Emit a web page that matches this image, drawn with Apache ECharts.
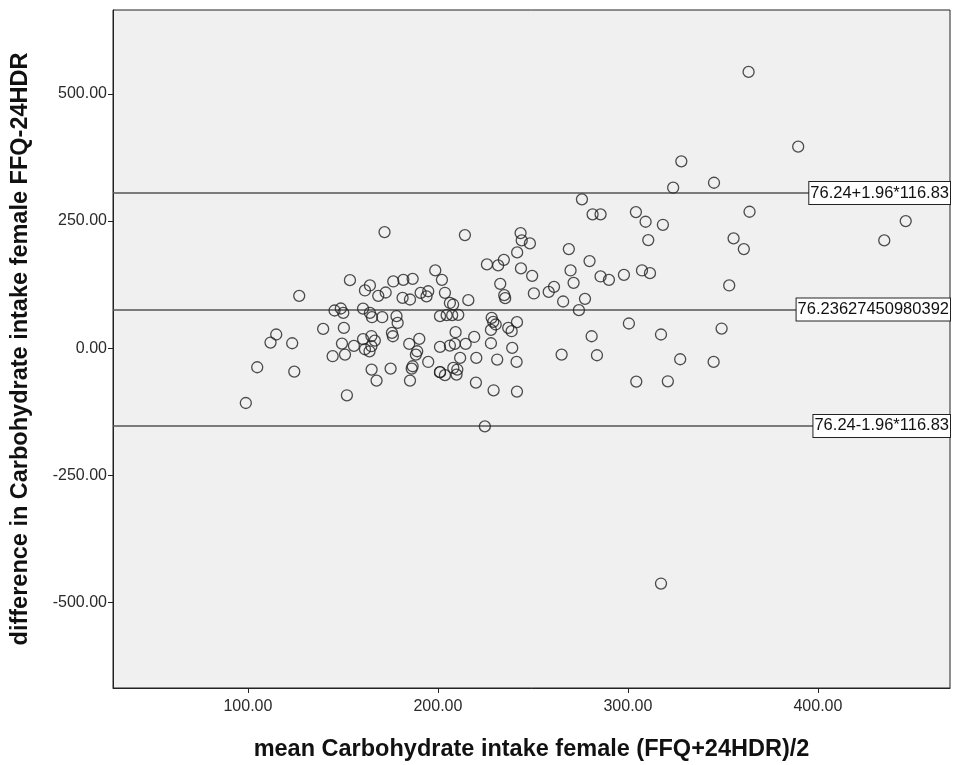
<!DOCTYPE html>
<html>
<head>
<meta charset="utf-8">
<script src="https://cdn.jsdelivr.net/npm/echarts@6/dist/echarts.min.js"></script>
<style>
html,body{margin:0;padding:0;background:#fff;}
#chart{width:954px;height:765px;}
</style>
</head>
<body>
<div id="chart"></div>
<script>
// mean of the two methods (x)
const meanValues = [
  98.9,104.9,111.9,114.9,123.3,124.4,127,139.6,144.6,145.6,148.9,150.2,149.5,150.5,151.1,152.1,153.7,155.8,
  160.6,164.2,165.3,170.7,178.2,178.8,160.6,165,166.8,161.6,165,164,175.8,176.3,
  184.9,190.2,189.1,188.4,194.9,165.1,175.1,167.7,186.2,185.3,186.7,201.1,
  161.6,164.2,168.6,172.5,176.5,181.8,186.7,181.4,185.3,190.9,194.9,194,198.6,202.1,203.7,
  206.3,208,216,201.1,204.6,207.5,210.7,228.3,229.1,230.4,227.9,237,238.8,241.6,209.3,219.1,
  201.1,206.3,208.9,214.6,227.9,239.1,211.7,220.2,231.2,241.4,201.1,203.7,208.1,210.2,209.8,
  220,229.3,241.6,224.7,171.9,214.2,243.5,244.1,248.4,241.7,225.8,231.7,234.7,243.7,249.6,
  232.8,250.5,258.3,261.1,234.9,235.4,
  265.9,277.4,274.2,300.5,317.4,349.3,280.9,265.1,283.7,327.5,345.1,304.4,321,
  268.9,279.8,269.8,271.4,285.6,290,297.9,307.4,311.6,353.3,
  275.8,281.4,285.6,304.2,309.3,318.4,364,446.2,434.9,310.7,355.6,361,
  363.5,389.6,328.1,323.8,345.3,317.4
];
// difference FFQ - 24HDR (y)
const diffValues = [
  -107.7,-37.4,11.2,27,9.8,-45.9,103,38,-15.7,74.2,78.1,69.5,9.2,40,-12.5,-92.5,133.9,4.6,
  78,69.5,61,61,63,49.8,18,24,15,-2,4,-6,30.2,23.6,
  8.5,18.3,-5.9,-12.5,-27,-42,-40,-63.6,-40,-63.6,-35.4,2.6,
  113.6,123.4,103,109.6,131.3,134.5,136.4,99,95.8,108.9,112,102,153,134.5,109,
  89,86,94.5,63,65,65,65.6,59.7,51.8,46.7,36,40,33.5,51.2,31.5,22.2,
  -47,5.3,8.5,8.5,9.8,0.6,-19,-19,-22.2,-26.9,-47,-53,-38.8,-41.9,-51.8,
  -67.5,-82.7,-85.3,-153.5,228.3,222.4,226.4,212,206.1,188.4,164.8,162.8,173.8,156.9,142.3,
  126.6,107.7,110.8,120.7,104.3,98.4,
  91.9,97.1,74.8,48.6,27,38.7,23.6,-12.5,-13.8,-21.7,-26.9,-65.6,-65,
  194.9,171.3,152.9,128.6,141.1,134.5,144.3,152.9,147.6,123.4,
  292.7,263.2,263.2,267.7,248.7,242.7,268.3,250,212,212.6,216,194.9,
  543.3,396.3,367.5,315.6,325.4,-462.6
];
const xTicks = [100, 200, 300, 400];
const yTicks = [-500, -250, 0, 250, 500];
const meanDiff = 76.23627450980392;
const sdDiff = 116.83;
const refValues = [meanDiff + 1.96 * sdDiff, meanDiff, meanDiff - 1.96 * sdDiff];
const refLabels = ['76.24+1.96*116.83', '76.23627450980392', '76.24-1.96*116.83'];

const points = meanValues.map((x, i) => [x, diffValues[i]]);
const font = 'Liberation Sans, Arial, sans-serif';

const chart = echarts.init(document.getElementById('chart'), null, {renderer: 'canvas'});
chart.setOption({
  animation: false,
  backgroundColor: '#ffffff',
  grid: {
    left: 113, right: 4, top: 10, bottom: 77,
    containLabel: false,
    outerBoundsMode: 'none',
    show: true, backgroundColor: '#f0f0f0', borderColor: '#222', borderWidth: 1
  },
  xAxis: {
    type: 'value', min: 29, max: 469.5,
    splitLine: {show: false},
    axisLine: {show: true, onZero: false, lineStyle: {color: '#222', width: 1}},
    axisTick: {show: true, customValues: xTicks, length: 5, lineStyle: {color: '#222'}},
    axisLabel: {customValues: xTicks, formatter: v => v.toFixed(2), color: '#2a2a2a', fontSize: 16, fontFamily: font, margin: 11},
    name: 'mean Carbohydrate intake female (FFQ+24HDR)/2',
    nameLocation: 'middle', nameGap: 50,
    nameTextStyle: {fontSize: 23.5, fontWeight: 'bold', color: '#111', fontFamily: font}
  },
  yAxis: {
    type: 'value', min: -668, max: 665,
    splitLine: {show: false},
    axisLine: {show: true, onZero: false, lineStyle: {color: '#222', width: 1}},
    axisTick: {show: true, customValues: yTicks, length: 5, lineStyle: {color: '#222'}},
    axisLabel: {customValues: yTicks, formatter: v => v.toFixed(2), color: '#2a2a2a', fontSize: 16, fontFamily: font, margin: 6},
    name: 'difference in Carbohydrate intake female FFQ-24HDR',
    nameLocation: 'middle', nameGap: 80,
    nameTextStyle: {fontSize: 23.5, fontWeight: 'bold', color: '#111', fontFamily: font}
  },
  series: [{
    type: 'scatter',
    data: points,
    symbol: 'circle',
    symbolSize: 11,
    itemStyle: {color: 'rgba(0,0,0,0)', borderColor: '#222', borderWidth: 1.3},
    z: 3,
    markLine: {
      silent: true,
      symbol: 'none',
      z: 2,
      lineStyle: {color: '#555', width: 1.6, type: 'solid'},
      label: {
        show: true,
        position: 'insideEnd',
        distance: 0,
        color: '#111',
        fontSize: 16.5,
        fontFamily: font,
        backgroundColor: '#ffffff',
        borderColor: '#222',
        borderWidth: 1,
        padding: [3, 1, 2, 1],
        formatter: p => p.name
      },
      data: refValues.map((v, i) => ({yAxis: v, name: refLabels[i]}))
    }
  }]
});
</script>
</body>
</html>
